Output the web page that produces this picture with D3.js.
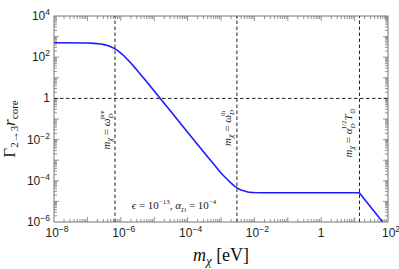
<!DOCTYPE html>
<html><head><meta charset="utf-8">
<script src="https://cdn.jsdelivr.net/npm/d3@7"></script>
<style>body{margin:0;background:#fff}svg{display:block}</style>
</head><body>
<script>
// data: log10(m_chi/eV) and log10(Gamma r_core)
const logM = [-8, -7, -6.8, -6.6, -6.5, -6.4, -6.3, -6.2, -6.1, -6.0, -5.9, -5.8, -5.7, -5.6, -5.5, -5.4, -5.2, -5.0, -4.5, -4.0, -3.5, -3.0, -2.9, -2.8, -2.7, -2.6, -2.5, -2.4, -2.3, -2.2, -2.1, -2.0, -1.8, -1.5, 0, 1.14, 1.86];
const logG = [2.70, 2.69, 2.67, 2.64, 2.61, 2.57, 2.51, 2.43, 2.33, 2.20, 2.06, 1.89, 1.72, 1.53, 1.34, 1.15, 0.76, 0.36, -0.64, -1.64, -2.64, -3.62, -3.79, -3.95, -4.11, -4.25, -4.37, -4.45, -4.50, -4.54, -4.56, -4.57, -4.58, -4.58, -4.58, -4.58, -6.04];
const vLines = [6.7e-7, 3.0e-3, 14];
const hLine = 1;
const xTickVals = [1e-8, 1e-6, 1e-4, 1e-2, 1, 1e2];
const xTickLabels = ["10^-8", "10^-6", "10^-4", "10^-2", "1", "10^2"];
const yTickVals = [1e4, 1e2, 1, 1e-2, 1e-4, 1e-6];
const yTickLabels = ["10^4", "10^2", "1", "10^-2", "10^-4", "10^-6"];

const W = 399, H = 269;
const m = {l: 54, r: 11, t: 16, b: 47};
const svg = d3.select("body").append("svg").attr("width", W).attr("height", H);
const x = d3.scaleLog().domain([1e-8, 1e2]).range([m.l, W - m.r]);
const y = d3.scaleLog().domain([1e-6, 1e4]).range([H - m.b, m.t]);
const x0 = m.l, x1 = W - m.r, y0 = H - m.b, y1 = m.t;

svg.append("defs").append("clipPath").attr("id", "clip")
  .append("rect").attr("x", x0).attr("y", y1).attr("width", x1 - x0).attr("height", y0 - y1);

// minor & major ticks (inward, all sides)
const frameCol = "#777";
const g = svg.append("g").attr("stroke", frameCol).attr("stroke-width", 0.8);
for (let e = -8; e < 2; e++) for (let k = 1; k < 10; k++) {
  const v = k * Math.pow(10, e), px = x(v), len = k === 1 ? 5 : 3;
  if (k === 1 && e === -8) continue;
  g.append("line").attr("x1", px).attr("x2", px).attr("y1", y0).attr("y2", y0 - len);
  g.append("line").attr("x1", px).attr("x2", px).attr("y1", y1).attr("y2", y1 + len);
}
for (let e = -6; e < 4; e++) for (let k = 1; k < 10; k++) {
  const v = k * Math.pow(10, e), py = y(v), len = k === 1 ? 5 : 3;
  if (k === 1 && e === -6) continue;
  g.append("line").attr("y1", py).attr("y2", py).attr("x1", x0).attr("x2", x0 + len);
  g.append("line").attr("y1", py).attr("y2", py).attr("x1", x1).attr("x2", x1 - len);
}

// dashed reference lines
const dg = svg.append("g").attr("stroke", "#222").attr("stroke-width", 1).attr("stroke-dasharray", "3.5,2.5");
vLines.forEach(v => dg.append("line").attr("x1", x(v)).attr("x2", x(v)).attr("y1", y0).attr("y2", y1));
dg.append("line").attr("x1", x0).attr("x2", x1).attr("y1", y(hLine)).attr("y2", y(hLine));

// curve
const pts = logM.map((v, i) => [Math.pow(10, v), Math.pow(10, logG[i])]);
svg.append("path").datum(pts).attr("clip-path", "url(#clip)")
  .attr("fill", "none").attr("stroke", "#1a1aff").attr("stroke-width", 1.6)
  .attr("d", d3.line().x(d => x(d[0])).y(d => y(d[1])));

// frame
svg.append("rect").attr("x", x0).attr("y", y1).attr("width", x1 - x0).attr("height", y0 - y1)
  .attr("fill", "none").attr("stroke", frameCol).attr("stroke-width", 1);

// tick labels
function label(sel, s) {
  const parts = s.split("^");
  sel.text(parts[0]);
  if (parts[1]) sel.append("tspan").attr("dy", -5).attr("font-size", 8.5).text(parts[1].replace("-", "\u2212"));
}
const fs = "Liberation Sans, Arial, sans-serif";
xTickVals.forEach((v, i) => {
  const t = svg.append("text").attr("x", x(v) + (xTickLabels[i].includes("^") ? 3 : 0)).attr("y", y0 + 15)
    .attr("text-anchor", "middle").attr("font-family", fs).attr("font-size", 12).attr("fill", "#222");
  label(t, xTickLabels[i]);
});
yTickVals.forEach((v, i) => {
  const t = svg.append("text").attr("y", y(v) + 4)
    .attr("text-anchor", "end").attr("font-family", fs).attr("font-size", 12).attr("fill", "#222");
  label(t, yTickLabels[i]);
  t.attr("x", x0 - 4);
});

const serif = "Liberation Serif, Times New Roman, serif";
// axis labels
const xl = svg.append("text").attr("x", (x0 + x1) / 2).attr("y", 261).attr("text-anchor", "middle")
  .attr("font-family", serif).attr("font-size", 18).attr("fill", "#111");
xl.append("tspan").attr("font-style", "italic").text("m");
xl.append("tspan").attr("font-style", "italic").attr("font-size", 13).attr("dy", 4).text("χ");
xl.append("tspan").attr("dy", -4).text(" [eV]");

const yl = svg.append("text").attr("transform", "translate(15,129) rotate(-90)").attr("text-anchor", "middle")
  .attr("font-family", serif).attr("font-size", 17).attr("fill", "#111");
yl.append("tspan").text("Γ");
yl.append("tspan").attr("font-size", 11).attr("dy", 3).text("2→3");
yl.append("tspan").attr("font-style", "italic").attr("dy", -3).text("r");
yl.append("tspan").attr("font-size", 11).attr("dy", 3).text("core");

// annotations (rotated)
function annot(xp, yp) {
  const t = svg.append("text").attr("transform", `translate(${xp},${yp}) rotate(-90)`).attr("text-anchor", "middle")
    .attr("font-family", serif).attr("font-size", 11).attr("fill", "#222");
  t.append("tspan").attr("font-style", "italic").text("m");
  t.append("tspan").attr("font-style", "italic").attr("font-size", 8).attr("dy", 2).text("χ");
  t.append("tspan").attr("dy", -2).text(" = ");
  return t;
}
let a1 = annot(110, 130);
a1.append("tspan").attr("font-style", "italic").text("ω");
a1.append("tspan").attr("font-style", "italic").attr("font-size", 7).attr("dy", 3).text("D");
a1.append("tspan").attr("font-size", 7).attr("dx", -6).attr("dy", -9).text("pre");
let a2 = annot(231, 128);
a2.append("tspan").attr("font-style", "italic").text("ω");
a2.append("tspan").attr("font-style", "italic").attr("font-size", 7).attr("dy", 3).text("D");
a2.append("tspan").attr("font-size", 7).attr("dx", -6).attr("dy", -9).text("th");
let a3 = annot(352, 133);
a3.append("tspan").attr("font-style", "italic").text("α");
a3.append("tspan").attr("font-style", "italic").attr("font-size", 7).attr("dy", 3).text("D");
a3.append("tspan").attr("font-size", 7).attr("dx", -6).attr("dy", -9).text("1/2");
a3.append("tspan").attr("font-style", "italic").attr("dy", 6).text("T");
a3.append("tspan").attr("font-size", 7).attr("dy", 3).text("⊙");

// epsilon note
const en = svg.append("text").attr("x", 174).attr("y", 209).attr("text-anchor", "middle")
  .attr("font-family", serif).attr("font-size", 11).attr("fill", "#222");
en.append("tspan").attr("font-style", "italic").text("ϵ");
en.append("tspan").text(" = 10");
en.append("tspan").attr("font-size", 7).attr("dy", -5).text("−13");
en.append("tspan").attr("dy", 5).text(", ");
en.append("tspan").attr("font-style", "italic").text("α");
en.append("tspan").attr("font-style", "italic").attr("font-size", 7).attr("dy", 3).text("D");
en.append("tspan").attr("dy", -3).text(" = 10");
en.append("tspan").attr("font-size", 7).attr("dy", -5).text("−4");
</script>
</body></html>
